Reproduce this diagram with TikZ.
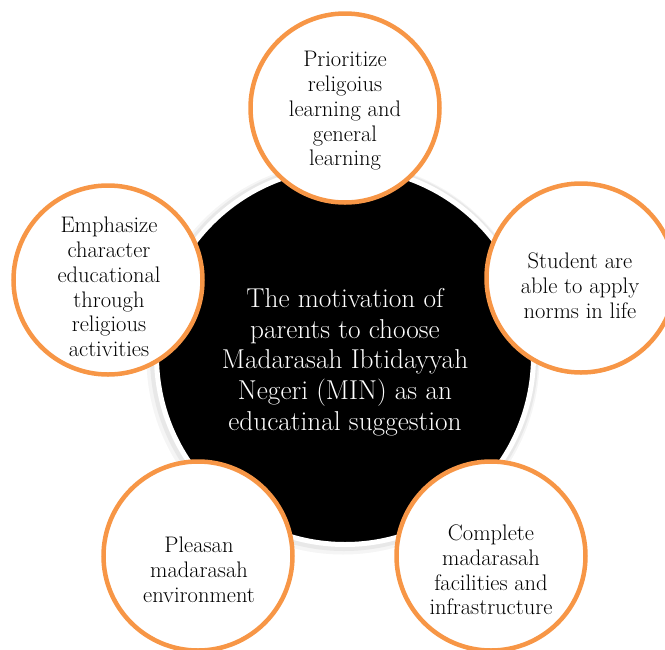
\documentclass[tikz,border=0pt]{standalone}
\usepackage{tikz}
\usetikzlibrary{positioning}
\definecolor{petalorange}{RGB}{247,150,70}

\begin{document}
\begin{tikzpicture}[x=1pt,y=-1pt,
	petal/.style={circle,line width=4.5pt,draw=petalorange,fill=white,inner sep=0pt,
		minimum size=189pt},
	petaltext/.style={align=center,font=\fontsize{22.5}{24.8}\selectfont},
	hub/.style={circle,line width=5pt,draw=white,fill=black,inner sep=0pt,
		minimum size=377pt}]
	\useasboundingbox (0,0) rectangle (665,649);
	\clip (0,0) rectangle (665,649);
	
	% soft shadow round the central circle
	\fill[black!4] (343,358) circle (196.5);
	\fill[black!9] (344,357) circle (194);
	\node[hub] (hub)
	at (345,356) {};
	\node[text=white,align=center,font=\fontsize{27.3}{30.7}\selectfont] (hubtext)
	at (345,362) {The motivation of\\parents to choose\\Madarasah Ibtidayyah\\Negeri (MIN) as an\\educatinal suggestion};
	
	\node[petal] (top) at (345,108) {};
	\node[petal] (right) at (581,278) {};
	\node[petal] (left) at (108,280) {};
	\node[petal] (botleft) at (198,556) {};
	\node[petal] (botright) at (491,556) {};
	
	\node[petaltext] (toptext)
	at (345,111) {Prioritize\\religoius\\learning and\\general\\learning};
	\node[petaltext] (righttext)
	at (580,286) {Student are\\able to apply\\norms in life};
	\node[petaltext] (lefttext)
	at (109,287) {Emphasize\\character\\educational\\through\\religious\\activities};
	\node[petaltext] (botlefttext)
	at (199,570) {Pleasan\\madarasah\\environment};
	\node[petaltext] (botrighttext)
	at (491,570) {Complete\\madarasah\\facilities and\\infrastructure};
\end{tikzpicture}
\end{document}
